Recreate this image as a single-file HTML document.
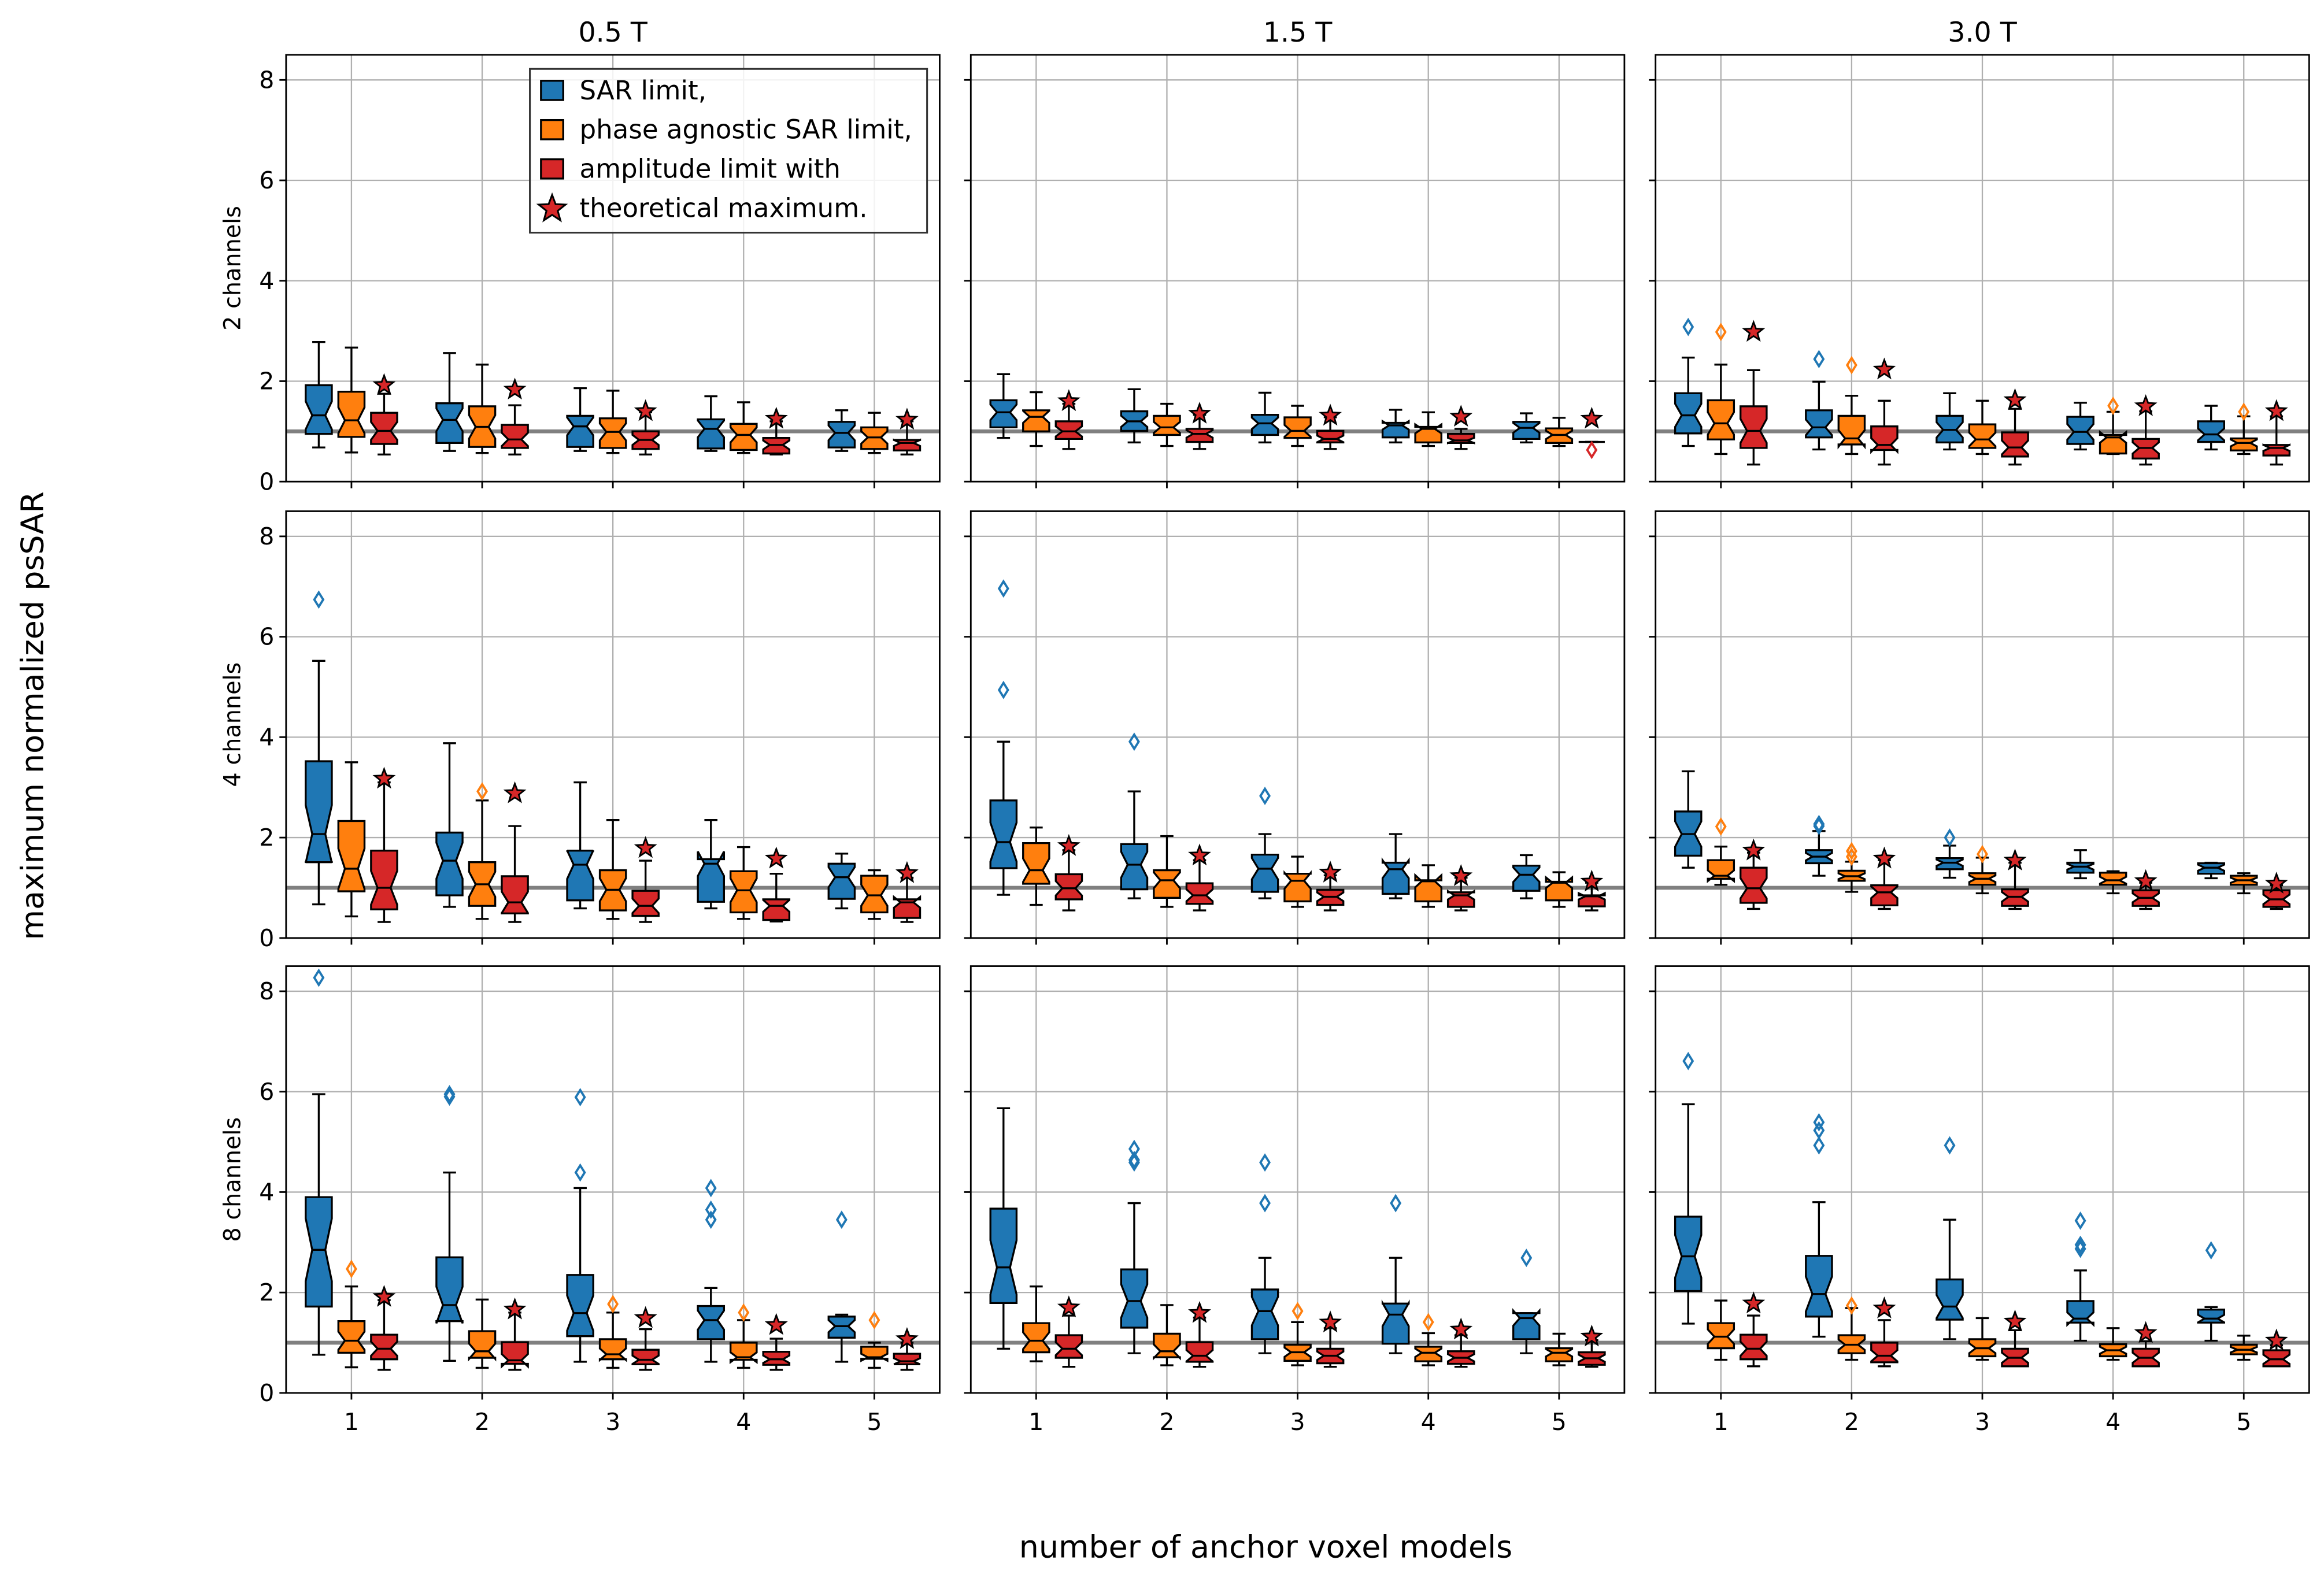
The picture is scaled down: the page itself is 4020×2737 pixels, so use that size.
<!DOCTYPE html>
<html><head><meta charset="utf-8"><style>
html,body{margin:0;padding:0;background:#fff;}
svg{display:block;}
text{font-family:"DejaVu Sans","Liberation Sans",sans-serif;fill:#000;}
</style></head><body>
<svg id="fig" xmlns="http://www.w3.org/2000/svg" width="4020" height="2737" viewBox="0 0 1568 1067.6">
<rect x="0" y="0" width="1568" height="1068" fill="#fff"/>
</svg>
<script>
// ---- data ----
const fieldLabels = ["0.5 T", "1.5 T", "3.0 T"];
const channelLabels = ["2 channels", "4 channels", "8 channels"];
const groupLabels = ["1", "2", "3", "4", "5"];
const seriesNames = ["SAR limit,", "phase agnostic SAR limit,", "amplitude limit with", "theoretical maximum."];
const yTicks = [0, 2, 4, 6, 8];
// per panel (row-major: 2ch 0.5T,1.5T,3.0T; 4ch ...; 8ch ...), 15 boxes each: group g, series s -> index g*3+s
const whiskerLow = [
 [0.68,0.58,0.54, 0.61,0.57,0.54, 0.61,0.57,0.54, 0.61,0.57,0.54, 0.61,0.57,0.54],
 [0.87,0.71,0.65, 0.78,0.71,0.65, 0.78,0.71,0.65, 0.78,0.71,0.65, 0.78,0.71,0.79],
 [0.71,0.55,0.34, 0.64,0.55,0.34, 0.64,0.55,0.34, 0.64,0.55,0.34, 0.64,0.55,0.34],
 [0.67,0.43,0.32, 0.62,0.38,0.32, 0.59,0.38,0.32, 0.59,0.38,0.33, 0.59,0.38,0.32],
 [0.86,0.66,0.55, 0.79,0.62,0.55, 0.79,0.62,0.55, 0.79,0.62,0.55, 0.79,0.62,0.55],
 [1.40,1.06,0.58, 1.24,0.92,0.58, 1.20,0.89,0.58, 1.19,0.89,0.58, 1.19,0.89,0.58],
 [0.76,0.51,0.46, 0.64,0.50,0.46, 0.62,0.50,0.46, 0.62,0.50,0.46, 0.62,0.50,0.46],
 [0.88,0.63,0.52, 0.79,0.55,0.52, 0.79,0.55,0.52, 0.79,0.55,0.52, 0.79,0.55,0.52],
 [1.38,0.66,0.53, 1.12,0.66,0.53, 1.07,0.66,0.53, 1.04,0.66,0.53, 1.04,0.66,0.53]
];
const quartile1 = [
 [0.95,0.89,0.75, 0.77,0.69,0.67, 0.69,0.67,0.65, 0.66,0.63,0.56, 0.68,0.65,0.62],
 [1.08,1.00,0.85, 1.01,0.93,0.79, 0.93,0.87,0.78, 0.88,0.78,0.77, 0.85,0.77,0.79],
 [0.96,0.84,0.67, 0.88,0.74,0.63, 0.78,0.67,0.50, 0.75,0.56,0.46, 0.79,0.62,0.52],
 [1.51,0.93,0.57, 0.85,0.64,0.49, 0.75,0.55,0.44, 0.72,0.51,0.36, 0.78,0.51,0.40],
 [1.39,1.08,0.77, 0.97,0.80,0.68, 0.92,0.73,0.66, 0.88,0.73,0.62, 0.94,0.75,0.63],
 [1.64,1.18,0.70, 1.49,1.14,0.65, 1.37,1.06,0.64, 1.30,1.06,0.64, 1.28,1.06,0.62],
 [1.72,0.80,0.67, 1.43,0.70,0.58, 1.13,0.67,0.57, 1.07,0.66,0.56, 1.10,0.68,0.57],
 [1.79,0.81,0.70, 1.30,0.71,0.62, 1.07,0.64,0.59, 0.98,0.63,0.58, 1.07,0.63,0.56],
 [2.03,0.89,0.67, 1.52,0.79,0.61, 1.46,0.73,0.53, 1.40,0.73,0.53, 1.40,0.77,0.53]
];
const medians = [
 [1.32,1.22,1.01, 1.23,1.09,0.84, 1.10,0.99,0.83, 1.05,0.93,0.73, 0.97,0.88,0.77],
 [1.38,1.29,1.00, 1.20,1.08,0.95, 1.16,1.01,0.85, 1.12,1.05,0.82, 1.07,0.93,0.79],
 [1.32,1.16,1.01, 1.08,0.86,0.73, 1.03,0.84,0.68, 0.99,0.88,0.67, 0.94,0.77,0.67],
 [2.07,1.38,1.00, 1.54,1.07,0.71, 1.46,0.96,0.64, 1.48,0.95,0.64, 1.21,0.85,0.71],
 [1.91,1.35,0.99, 1.46,1.15,0.85, 1.38,1.14,0.82, 1.37,1.13,0.85, 1.26,1.10,0.83],
 [2.07,1.24,0.99, 1.62,1.23,0.91, 1.50,1.18,0.82, 1.42,1.15,0.80, 1.40,1.15,0.77],
 [2.85,1.04,0.88, 1.75,0.83,0.65, 1.59,0.77,0.66, 1.45,0.71,0.67, 1.33,0.71,0.63],
 [2.50,1.04,0.88, 1.83,0.83,0.74, 1.63,0.81,0.74, 1.56,0.80,0.70, 1.49,0.80,0.69],
 [2.72,1.12,0.88, 1.97,0.96,0.74, 1.72,0.89,0.70, 1.48,0.85,0.70, 1.48,0.86,0.67]
];
const quartile3 = [
 [1.92,1.79,1.37, 1.56,1.50,1.13, 1.31,1.26,1.00, 1.24,1.15,0.87, 1.19,1.08,0.83],
 [1.62,1.42,1.20, 1.40,1.31,1.05, 1.33,1.28,1.01, 1.17,1.09,0.95, 1.19,1.06,0.79],
 [1.76,1.62,1.50, 1.42,1.31,1.10, 1.31,1.14,0.98, 1.29,0.93,0.85, 1.20,0.86,0.73],
 [3.52,2.33,1.74, 2.10,1.51,1.23, 1.74,1.35,0.94, 1.57,1.33,0.77, 1.48,1.24,0.77],
 [2.74,1.89,1.27, 1.87,1.35,1.09, 1.66,1.28,0.96, 1.50,1.15,0.91, 1.44,1.12,0.85],
 [2.52,1.55,1.40, 1.75,1.34,1.05, 1.59,1.29,0.97, 1.50,1.30,0.95, 1.49,1.24,0.95],
 [3.90,1.43,1.16, 2.70,1.23,1.01, 2.35,1.07,0.86, 1.73,1.00,0.82, 1.52,0.92,0.78],
 [3.67,1.39,1.15, 2.46,1.18,1.01, 2.06,0.96,0.88, 1.78,0.92,0.83, 1.59,0.89,0.81],
 [3.51,1.39,1.16, 2.73,1.15,1.00, 2.26,1.07,0.88, 1.83,0.97,0.88, 1.66,0.96,0.85]
];
const whiskerHigh = [
 [2.78,2.67,1.75, 2.56,2.33,1.52, 1.86,1.81,1.38, 1.70,1.58,1.20, 1.42,1.37,1.20],
 [2.14,1.78,1.55, 1.84,1.55,1.33, 1.77,1.51,1.28, 1.43,1.38,1.05, 1.36,1.27,0.79],
 [2.47,2.33,2.22, 1.99,1.71,1.61, 1.76,1.61,1.45, 1.57,1.39,1.40, 1.51,1.30,1.30],
 [5.52,3.50,3.10, 3.88,2.74,2.23, 3.10,2.35,1.54, 2.35,1.81,1.28, 1.68,1.35,1.20],
 [3.91,2.20,1.75, 2.92,2.03,1.55, 2.07,1.62,1.25, 2.07,1.45,1.20, 1.65,1.31,1.10],
 [3.32,1.82,1.70, 2.13,1.52,1.55, 1.84,1.60,1.50, 1.75,1.33,1.10, 1.50,1.29,1.05],
 [5.95,2.12,1.85, 4.39,1.86,1.60, 4.08,1.60,1.27, 2.09,1.45,1.08, 1.56,1.00,1.00],
 [5.67,2.12,1.54, 3.78,1.75,1.50, 2.69,1.41,1.29, 2.69,1.19,1.15, 1.59,1.18,1.05],
 [5.75,1.84,1.54, 3.80,1.69,1.45, 3.45,1.49,1.25, 2.44,1.29,1.03, 1.71,1.14,0.95]
];
const theoreticalMax = [
 [1.92,1.83,1.40,1.25,1.23],
 [1.60,1.35,1.31,1.29,1.25],
 [2.98,2.23,1.62,1.50,1.40],
 [3.17,2.88,1.79,1.58,1.29],
 [1.83,1.64,1.30,1.23,1.12],
 [1.74,1.58,1.54,1.13,1.08],
 [1.91,1.66,1.49,1.35,1.07],
 [1.70,1.59,1.40,1.26,1.12],
 [1.78,1.68,1.42,1.19,1.04]
];
// outliers per panel: box index (g*3+s) and value
const outlierBoxes = [
 [],
 [14],
 [0,1,3,4,10,13],
 [0,4],
 [0,0,3,6],
 [1,3,3,4,4,6,7],
 [0,1,3,3,6,6,7,9,9,9,10,12,13],
 [3,3,3,6,6,7,9,10,12],
 [0,3,3,3,4,6,9,9,9,12]
];
const outlierValues = [
 [],
 [0.63],
 [3.08,2.98,2.44,2.32,1.51,1.39],
 [6.74,2.92],
 [6.96,4.94,3.91,2.83],
 [2.22,2.27,2.23,1.73,1.62,2.00,1.67],
 [8.27,2.47,5.95,5.90,5.89,4.39,1.77,4.08,3.65,3.45,1.60,3.45,1.45],
 [4.86,4.64,4.59,4.59,3.78,1.63,3.78,1.41,2.69],
 [6.61,5.39,5.23,4.93,1.74,4.93,3.43,2.95,2.87,2.84]
];
</script>
<script>
const NS = "http://www.w3.org/2000/svg";
const svg = document.getElementById('fig');
const colors = ["#1f77b4", "#ff7f0e", "#d62728"];
const colX = [193, 655, 1117], rowY = [37, 345, 652], PW = 441, PH = 288;
const XMIN = 0.5, XMAX = 5.5, YMAX = 8.5;
const offsets = [-0.25, 0, 0.25], BW = 0.2, NFAC = 1.57 / Math.sqrt(30);
function mk(tag, attrs, parent) { const e = document.createElementNS(NS, tag); for (const k in attrs) e.setAttribute(k, attrs[k]); (parent || svg).appendChild(e); return e; }
function starPts(cx, cy, R) { const r = R * 0.42; let p = []; for (let i = 0; i < 10; i++) { const a = -Math.PI / 2 + i * Math.PI / 5; const rr = i % 2 ? r : R; p.push((cx + rr * Math.cos(a)).toFixed(2) + "," + (cy + rr * Math.sin(a)).toFixed(2)); } return p.join(" "); }
function diamondPts(cx, cy) { return `${cx},${cy - 4.8} ${cx + 3},${cy} ${cx},${cy + 4.8} ${cx - 3},${cy}`; }

for (let r = 0; r < 3; r++) for (let c = 0; c < 3; c++) {
  const p = r * 3 + c;
  const x0 = colX[c], y0 = rowY[r];
  const X = v => x0 + (v - XMIN) / (XMAX - XMIN) * PW;
  const Y = v => y0 + PH - v / YMAX * PH;
  const g = mk('g', {});
  
  
  const clipId = 'clip' + p;
  const cp = mk('clipPath', { id: clipId }, g); mk('rect', { x: x0, y: y0, width: PW, height: PH }, cp);
  yTicks.forEach(t => { const l = mk('line', { x1: x0, x2: x0 + PW, y1: Y(t), y2: Y(t), stroke: '#b0b0b0', 'stroke-width': 0.9 }, g);   });
  groupLabels.forEach((lab, i) => { const l = mk('line', { x1: X(i + 1), x2: X(i + 1), y1: y0, y2: y0 + PH, stroke: '#b0b0b0', 'stroke-width': 0.9 }, g);   });
  const ref = mk('line', { x1: x0, x2: x0 + PW, y1: Y(1), y2: Y(1), stroke: '#808080', 'stroke-width': 2.6 }, g);
   
  const dg = mk('g', { 'clip-path': `url(#${clipId})` }, g);
  for (let gi = 0; gi < 5; gi++) for (let s = 0; s < 3; s++) {
    const k = gi * 3 + s;
    const cx = X(gi + 1 + offsets[s]);
    const hw = BW / 2 / (XMAX - XMIN) * PW, qw = hw / 2, cw = hw / 2;
    const lo = whiskerLow[p][k], q1v = quartile1[p][k], md = medians[p][k], q3v = quartile3[p][k], hi = whiskerHigh[p][k];
    const iqr = q3v - q1v, nlo = md - NFAC * iqr, nhi = md + NFAC * iqr;
    const bg = mk('g', {}, dg);
    
    
    const wattr = { stroke: '#000', 'stroke-width': 1.3 };
    mk('line', Object.assign({ x1: cx, x2: cx, y1: Y(lo), y2: Y(q1v) }, wattr), bg);
    mk('line', Object.assign({ x1: cx, x2: cx, y1: Y(q3v), y2: Y(hi) }, wattr), bg);
    mk('line', Object.assign({ x1: cx - cw, x2: cx + cw, y1: Y(lo), y2: Y(lo) }, wattr), bg);
    mk('line', Object.assign({ x1: cx - cw, x2: cx + cw, y1: Y(hi), y2: Y(hi) }, wattr), bg);
    const pts = [[cx - hw, Y(q1v)], [cx + hw, Y(q1v)], [cx + hw, Y(nlo)], [cx + qw, Y(md)], [cx + hw, Y(nhi)], [cx + hw, Y(q3v)], [cx - hw, Y(q3v)], [cx - hw, Y(nhi)], [cx - qw, Y(md)], [cx - hw, Y(nlo)]];
    mk('polygon', { points: pts.map(a => a[0].toFixed(2) + ',' + a[1].toFixed(2)).join(' '), fill: colors[s], stroke: '#000', 'stroke-width': 1.3, 'stroke-linejoin': 'miter' }, bg);
    mk('line', { x1: cx - qw, x2: cx + qw, y1: Y(md), y2: Y(md), stroke: '#000', 'stroke-width': 1.3 }, bg);
  }
  outlierValues[p].forEach((v, i) => {
    const k = outlierBoxes[p][i], gi = Math.floor(k / 3), s = k % 3;
    const o = mk('polygon', { points: diamondPts(X(gi + 1 + offsets[s]), Y(v)), fill: 'none', stroke: colors[s], 'stroke-width': 1.5 }, dg);
     
  });
  theoreticalMax[p].forEach((v, gi) => {
    const st = mk('polygon', { points: starPts(X(gi + 1 + offsets[2]), Y(v), 6.6), fill: '#d62728', stroke: '#000', 'stroke-width': 1.1, 'stroke-linejoin': 'miter' }, dg);
     
  });
  const fr = mk('rect', { x: x0, y: y0, width: PW, height: PH, fill: 'none', stroke: '#000', 'stroke-width': 1.1 }, g);
   
  yTicks.forEach(t => {
    mk('line', { x1: x0 - 4.5, x2: x0, y1: Y(t), y2: Y(t), stroke: '#000', 'stroke-width': 1.1 }, g);
    if (c === 0) { const tl = mk('text', { x: x0 - 8, y: Y(t) + 5.5, 'text-anchor': 'end', 'font-size': 16 }, g); tl.textContent = String(t);   }
  });
  groupLabels.forEach((lab, i) => {
    mk('line', { x1: X(i + 1), x2: X(i + 1), y1: y0 + PH, y2: y0 + PH + 4.5, stroke: '#000', 'stroke-width': 1.1 }, g);
    if (r === 2) { const tl = mk('text', { x: X(i + 1), y: y0 + PH + 25, 'text-anchor': 'middle', 'font-size': 16 }, g); tl.textContent = lab;   }
  });
  if (r === 0) { const t = mk('text', { x: x0 + PW / 2, y: 28, 'text-anchor': 'middle', 'font-size': 18.5 }, g); t.textContent = fieldLabels[c];   }
  if (c === 0) { const cy = y0 + PH / 2; const t = mk('text', { x: 0, y: 0, 'text-anchor': 'middle', 'font-size': 15.5, transform: `translate(162,${cy}) rotate(-90)` }, g); t.textContent = channelLabels[r];   }
}
const xl = mk('text', { x: 854, y: 1051, 'text-anchor': 'middle', 'font-size': 21 });
xl.textContent = 'number of anchor voxel models';
 
const yl = mk('text', { x: 0, y: 0, 'text-anchor': 'middle', 'font-size': 21, transform: 'translate(29,483) rotate(-90)' });
yl.textContent = 'maximum normalized psSAR';
 
const lg = mk('g', {});
 
mk('rect', { x: 357.5, y: 46.5, width: 268, height: 110.5, fill: '#fff', 'fill-opacity': 0.85, stroke: '#333', 'stroke-width': 1.2 }, lg);
seriesNames.forEach((name, i) => {
  const cy = 61 + i * 26.5;
  const e = mk('g', {}, lg);
   
  if (i < 3) mk('rect', { x: 365, y: cy - 6.5, width: 15, height: 13, fill: colors[i], stroke: '#000', 'stroke-width': 1.3 }, e);
  else mk('polygon', { points: starPts(372.5, cy + 0.5, 9.5), fill: '#d62728', stroke: '#000', 'stroke-width': 1.2 }, e);
  const t = mk('text', { x: 391, y: cy + 6, 'font-size': 17.6 }, e);
  t.textContent = name;
});
</script>
</body></html>
